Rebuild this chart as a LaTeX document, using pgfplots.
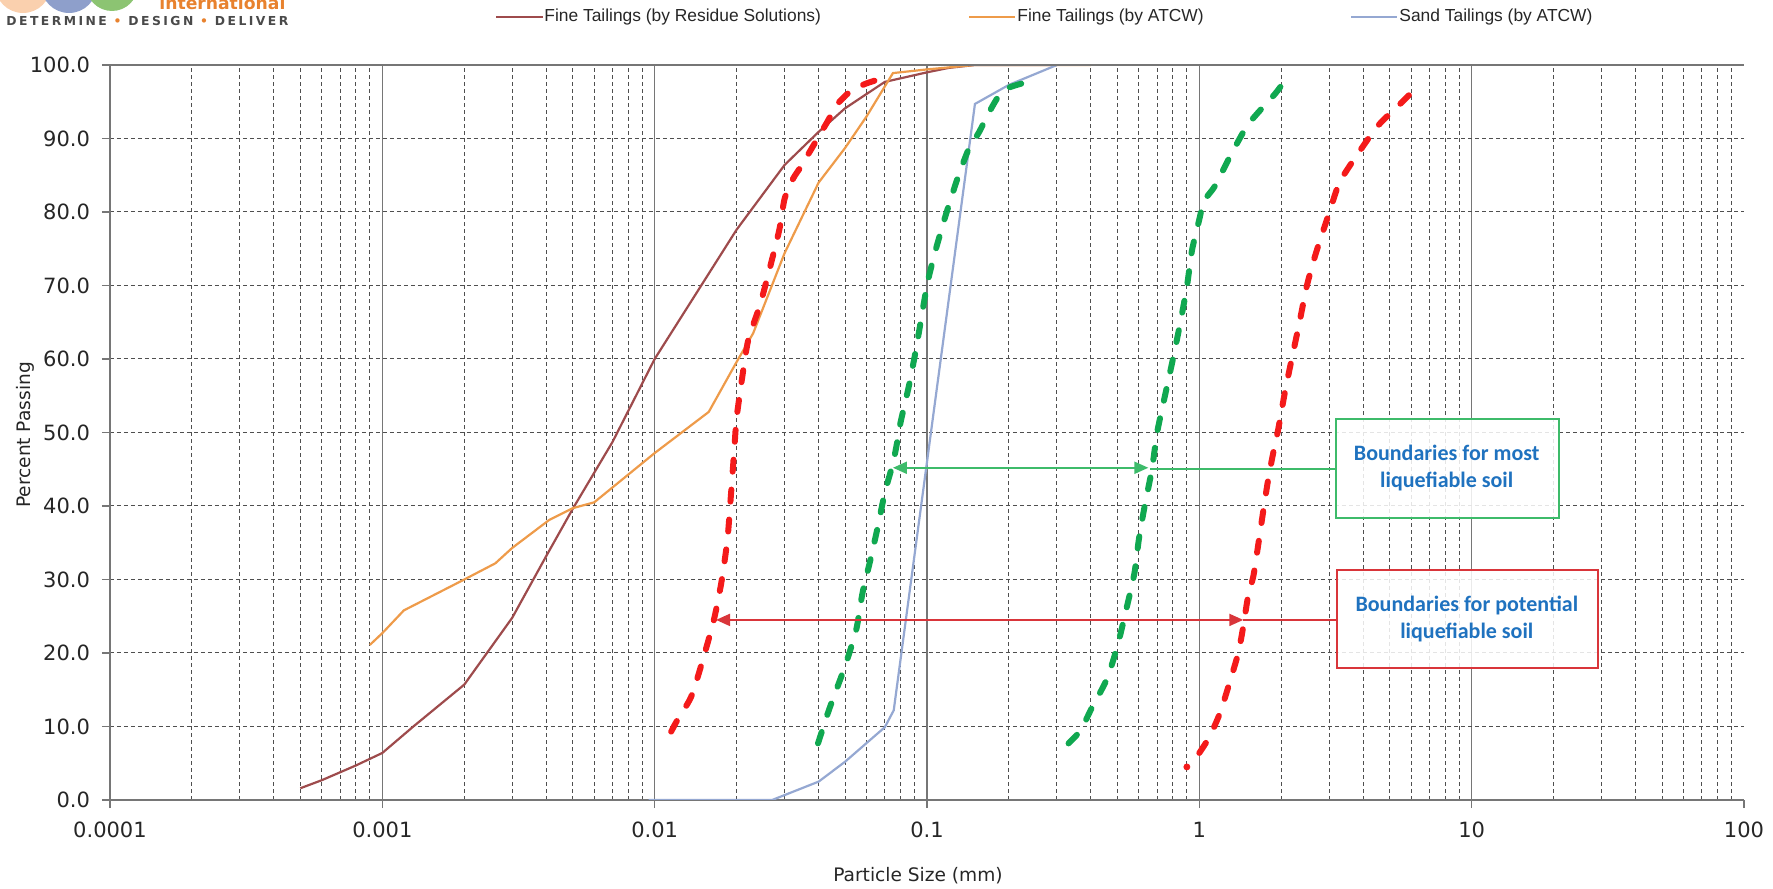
\documentclass[border=0pt]{standalone}
\usepackage{pgfplots}
\pgfplotsset{compat=1.18}
\usepackage{fontspec}
\setmainfont{DejaVu Sans}
\newfontfamily\legfont{Liberation Sans}
\newfontfamily\boxfont{Carlito}
\newfontfamily\logofont{DejaVu Sans}[LetterSpace=20]
\usetikzlibrary{arrows.meta}
\definecolor{cBrown}{HTML}{9E4B4C}
\definecolor{cOrange}{HTML}{EE9B4A}
\definecolor{cBlue}{HTML}{95A8D2}
\definecolor{cRed}{HTML}{F41A1A}
\definecolor{cGreen}{HTML}{10A850}
\definecolor{cBoxG}{HTML}{3DBB6A}
\definecolor{cBoxR}{HTML}{D9353A}
\definecolor{cTxt}{HTML}{1F72BF}
\definecolor{cGrid}{HTML}{4F4F4F}
\definecolor{cAxis}{HTML}{767676}
\definecolor{cPeach}{HTML}{FAD0AE}
\definecolor{cLogoBlue}{HTML}{8E9FCB}
\definecolor{cLogoGreen}{HTML}{8CC472}
\definecolor{cLogoOrange}{HTML}{E8822E}
\definecolor{cLogoGray}{HTML}{4A4A4A}
\begin{document}
\begin{tikzpicture}
\path[use as bounding box] (0,0) rectangle (886.5pt,444.5pt);
\clip (0,0) rectangle (886.5pt,444.5pt);
% logo (partially cut at top)
\fill[cPeach] (11.5pt,452pt) circle (14pt);
\fill[cLogoBlue] (34.5pt,452pt) circle (14pt);
\fill[cLogoGreen] (56pt,452pt) circle (13pt);
\node[anchor=base west, inner sep=0, text=cLogoOrange] at (79.5pt,439.5pt) {\resizebox{63pt}{!}{\bfseries international}};
\node[anchor=base west, inner sep=0, text=cLogoGray] at (3pt,431.5pt) {\resizebox{141pt}{!}{\logofont\bfseries DETERMINE \textcolor{cLogoOrange}{•} DESIGN \textcolor{cLogoOrange}{•} DELIVER}};
\begin{axis}[
  at={(55pt,44.5pt)}, anchor=south west, scale only axis,
  width=817pt, height=367.5pt,
  xmode=log, log basis x=10,
  xmin=1e-4, xmax=100, ymin=0, ymax=100,
  axis x line*=bottom, axis y line*=left,
  axis line style={cAxis, line width=0.75pt, -},
  xtick={1e-3,1e-2,1e-1,1,10},
  xticklabels={0.001,0.01,0.1,1,10},
  extra x ticks={1e-4,100},
  extra x tick labels={0.0001,100},
  extra x tick style={grid=none},
  minor xtick={2e-4,3e-4,4e-4,5e-4,6e-4,7e-4,8e-4,9e-4,
    0.002,0.003,0.004,0.005,0.006,0.007,0.008,0.009,
    0.02,0.03,0.04,0.05,0.06,0.07,0.08,0.09,
    0.2,0.3,0.4,0.5,0.6,0.7,0.8,0.9,
    2,3,4,5,6,7,8,9,20,30,40,50,60,70,80,90},
  ytick={0,10,...,100},
  yticklabels={0.0,10.0,20.0,30.0,40.0,50.0,60.0,70.0,80.0,90.0,100.0},
  xmajorgrids, xminorgrids, ymajorgrids,
  major x grid style={cAxis, line width=0.75pt, solid},
  minor x grid style={cGrid, line width=0.5pt, dash pattern=on 2pt off 1.5pt},
  major y grid style={cGrid, line width=0.5pt, dash pattern=on 2pt off 1.5pt},
  tick align=outside, major tick length=4pt, minor tick length=0pt,
  tick style={cAxis, line width=0.75pt},
  ticklabel style={font=\fontsize{10.5}{12}\selectfont, text=black!85},
  xticklabel style={anchor=center, yshift=-11pt},
  yticklabel style={anchor=east, xshift=-2.5pt},
]
% Fine Tailings (by Residue Solutions)
\addplot[cBrown, line width=1.1pt] coordinates {
(0.0005,1.6)(0.0006,2.7)(0.0008,4.7)(0.001,6.4)(0.0013,10)(0.002,15.7)(0.003,24.8)(0.004,33.2)(0.005,39.6)(0.007,48.7)(0.01,60)(0.02,77.6)(0.03,86.4)(0.04,90.9)(0.05,94.1)(0.07,97.7)(0.1,99)(0.12,99.6)(0.15,100)(0.3,100)};
% Fine Tailings (by ATCW)
\addplot[cOrange, line width=1.1pt] coordinates {
(0.0009,21.1)(0.001,22.7)(0.0012,25.8)(0.002,30)(0.0026,32.2)(0.003,34.3)(0.0041,38.1)(0.005,39.7)(0.006,40.5)(0.01,47.2)(0.0158,52.8)(0.02,59.6)(0.023,63.5)(0.03,74.4)(0.04,84)(0.05,88.7)(0.06,93)(0.075,98.9)(0.1,99.4)(0.15,100)(0.4,100)};
% Sand Tailings (by ATCW)
\addplot[cBlue, line width=1.1pt] coordinates {
(0.0095,0)(0.027,0)(0.04,2.5)(0.05,5.2)(0.07,9.9)(0.0755,12.2)(0.15,94.7)(0.2,97.3)(0.3,100)};
% Boundaries for potential liquefiable soil (red dashed)
\addplot[cRed, line width=3pt, line cap=round, dash pattern=on 6pt off 9pt, smooth, tension=0.4] coordinates {
(0.0115,9.3)(0.012,10.6)(0.0136,14)(0.0149,18.6)(0.0165,24.5)(0.0176,29.7)(0.0185,35.4)(0.019,40.8)(0.0196,47.6)(0.02,52)(0.0211,58.2)(0.0221,62.7)(0.0243,67.2)(0.0262,71.7)(0.0287,77.6)(0.03,81.8)(0.0322,84.5)(0.0346,86.3)(0.0395,89.9)(0.0428,92.1)(0.0472,94.8)(0.0531,96.6)(0.06,97.5)(0.066,98)};
\addplot[cRed, line width=3pt, line cap=round, dash pattern=on 6pt off 9pt, smooth, tension=0.4] coordinates {
(1.0,6.4)(1.09,8.6)(1.19,11.8)(1.29,15.9)(1.39,20)(1.45,23.6)(1.51,27.7)(1.58,30.5)(1.65,35)(1.72,39.5)(1.79,43.6)(1.87,47.3)(1.95,50.5)(2.06,55.4)(2.17,59.5)(2.33,64.9)(2.48,69.9)(2.68,74.4)(3.0,79.9)(3.27,84)(3.77,87.6)(4.52,91.7)(5.5,94.8)(6.0,96.2)};
\addplot[cRed, only marks, mark=*, mark size=1.5pt] coordinates {(0.9,4.5)};
% Boundaries for most liquefiable soil (green dashed)
\addplot[cGreen, line width=3pt, line cap=round, dash pattern=on 6pt off 9pt, smooth, tension=0.4] coordinates {
(0.0398,7.7)(0.0437,12.3)(0.05,18.2)(0.055,23.2)(0.058,28.2)(0.062,32.7)(0.0661,37.3)(0.07,41.8)(0.0751,45.9)(0.078,49)(0.08,51.4)(0.0859,56.4)(0.0912,61.4)(0.1,70)(0.107,74.5)(0.117,79.5)(0.129,84.4)(0.142,88.5)(0.155,90.8)(0.174,94.4)(0.191,96.6)(0.224,97.5)};
\addplot[cGreen, line width=3pt, line cap=round, dash pattern=on 6pt off 9pt, smooth, tension=0.4] coordinates {
(0.331,7.7)(0.367,9.5)(0.4,12.3)(0.457,16.4)(0.5,20.9)(0.539,25.9)(0.578,30.9)(0.6,35.5)(0.63,40)(0.67,45)(0.7,50)(0.748,55)(0.8,60)(0.85,64.8)(0.9,69.8)(0.94,74.8)(1.0,79)(1.04,81.5)(1.14,83.5)(1.29,87.4)(1.51,91.9)(1.89,96)(2.0,97.2)};
% top frame line
\draw[cAxis, line width=0.75pt] (axis cs:1e-4,100) -- (axis cs:100,100);
% annotations
\draw[cBoxG, line width=1pt, {Triangle[length=7pt,width=6pt]}-{Triangle[length=7pt,width=6pt]}] (axis cs:0.075,45.2) -- (axis cs:0.65,45.2);
\draw[cBoxG, line width=1pt] (axis cs:0.66,45) -- (axis cs:3.18,45);
\draw[cBoxR, line width=1pt, {Triangle[length=7pt,width=6pt]}-{Triangle[length=7pt,width=6pt]}] (axis cs:0.0168,24.5) -- (axis cs:1.45,24.5);
\draw[cBoxR, line width=1pt] (axis cs:1.45,24.5) -- (axis cs:3.2,24.5);
\draw[cBoxG, line width=1pt, fill=white, fill opacity=0.85] (axis cs:3.18,38.4) rectangle (axis cs:20.9,51.8);
\draw[cBoxR, line width=1pt, fill=white, fill opacity=0.85] (axis cs:3.2,18.0) rectangle (axis cs:29.2,31.3);
\node[align=center, text=cTxt, font=\boxfont\bfseries\fontsize{11}{13.5}\selectfont] at (axis cs:8.1,45.2) {Boundaries for most\\liquefiable soil};
\node[align=center, text=cTxt, font=\boxfont\bfseries\fontsize{11}{13.5}\selectfont] at (axis cs:9.6,24.6) {Boundaries for potential\\liquefiable soil};
\end{axis}
% axis titles
\node[font=\fontsize{9.3}{11}\selectfont, text=black!85] at (459pt,6.5pt) {Particle Size (mm)};
\node[font=\fontsize{9.3}{11}\selectfont, text=black!85, rotate=90] at (12.5pt,227pt) {Percent Passing};
% legend
\draw[cBrown, line width=1.3pt] (248pt,436pt) -- (271.5pt,436pt);
\node[anchor=west, inner sep=0, text=black!85, font=\legfont\fontsize{8.7}{10}\selectfont] at (272pt,436pt) {Fine Tailings (by Residue Solutions)};
\draw[cOrange, line width=1.3pt] (484.5pt,436pt) -- (507.5pt,436pt);
\node[anchor=west, inner sep=0, text=black!85, font=\legfont\fontsize{8.7}{10}\selectfont] at (508.5pt,436pt) {Fine Tailings (by ATCW)};
\draw[cBlue, line width=1.3pt] (675.5pt,436pt) -- (698.5pt,436pt);
\node[anchor=west, inner sep=0, text=black!85, font=\legfont\fontsize{8.7}{10}\selectfont] at (699.5pt,436pt) {Sand Tailings (by ATCW)};
\end{tikzpicture}
\end{document}
